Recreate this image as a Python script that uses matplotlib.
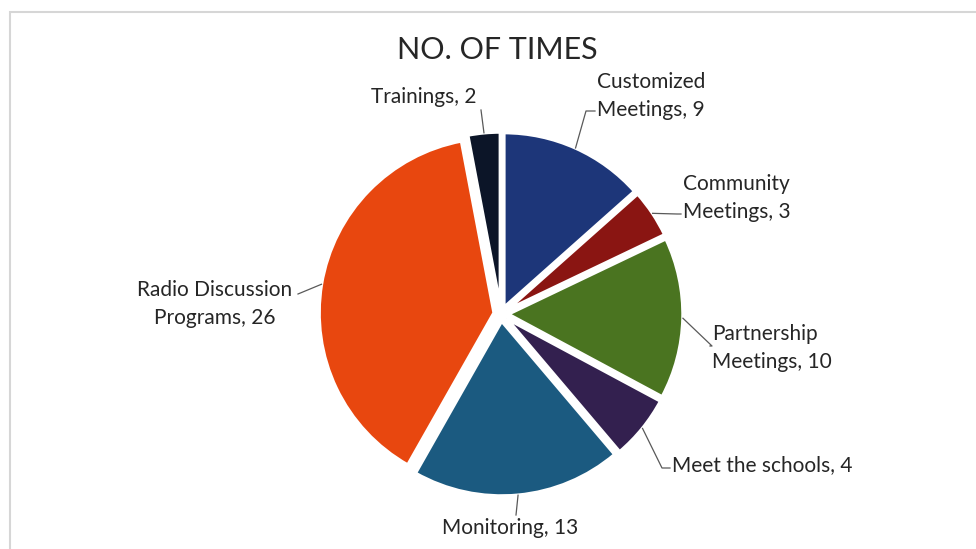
import numpy as np
import matplotlib.pyplot as plt
from matplotlib.patches import Rectangle

categories = [
    "Customized\nMeetings",
    "Community\nMeetings",
    "Partnership\nMeetings",
    "Meet the schools",
    "Monitoring",
    "Radio Discussion\nPrograms",
    "Trainings",
]
counts = [9, 3, 10, 4, 13, 26, 2]
colors = ["#1d3679", "#8a1512", "#4a7420", "#33204f", "#1b5a80", "#e8470f", "#0c1528"]

# label text anchor (pixel coords, y down), alignment, elbow point for leader
label_pos = [
    (597, 96, "left", (586, 111)),
    (683, 198, "left", (677, 214)),
    (712, 348, "left", (712, 346)),
    (672, 465, "left", (662, 468)),
    (510, 528, "center", (516, 515)),
    (215, 304, "center", (298, 294)),
    (424, 97, "center", (481, 110)),
]

W, H = 976, 549
fig = plt.figure(figsize=(W / 100, H / 100), dpi=100)
ax = fig.add_axes([0, 0, 1, 1])

font = ["Lato", "DejaVu Sans"]

cx, cy, r = 501, H - 314, 175
explode = [7] * len(counts)  # pie offsets are in data units
wedges, _ = ax.pie(
    counts,
    colors=colors,
    startangle=90,
    counterclock=False,
    radius=r,
    center=(cx, cy),
    explode=explode,
    wedgeprops=dict(edgecolor="white", linewidth=2.5),
)

for w, cat, n, (tx, ty, ha, elbow) in zip(wedges, categories, counts, label_pos):
    mid = np.deg2rad((w.theta1 + w.theta2) / 2)
    wx, wy = w.center
    px, py = wx + w.r * np.cos(mid), wy + w.r * np.sin(mid)
    ex, ey = elbow[0], H - elbow[1]
    xs = [px, ex]
    ys = [py, ey]
    if ha == "left":
        xs.append(tx - 2)
        ys.append(ey)
    ax.plot(xs, ys, color="#595959", lw=0.9, zorder=1)
    ax.text(tx, H - ty, f"{cat}, {n}", ha=ha, va="center", fontsize=15,
            family=font, color="#262626", linespacing=1.5)

ax.text(497, H - 50, "NO. OF TIMES", ha="center", va="center", fontsize=22,
        family=font, color="#262626")

# chart frame
ax.add_patch(Rectangle((9.5, -5), W + 10, H - 11.5 + 5, fill=False, edgecolor="#d6d6d6", lw=1.5))

ax.set_xlim(0, W)
ax.set_ylim(0, H)
ax.set_aspect("equal")
ax.axis("off")

fig.savefig("out.png", dpi=100)
